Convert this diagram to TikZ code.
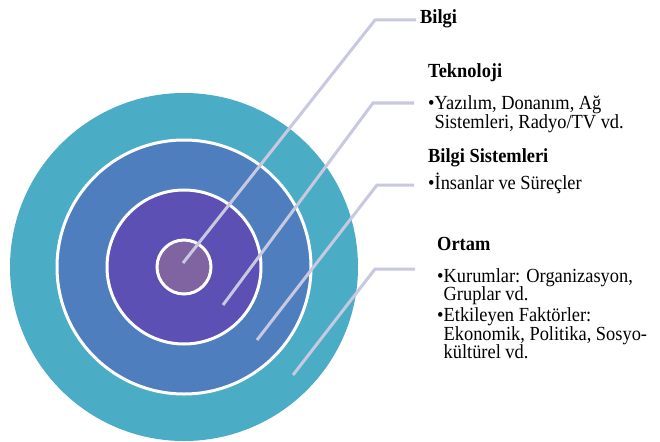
\documentclass[tikz,border=0pt]{standalone}
\usepackage{fontspec}
\setmainfont{Liberation Serif}[FakeStretch=0.92]
\usepackage{tikz}

\definecolor{ortamcol}{HTML}{4BACC6}
\definecolor{sistemcol}{HTML}{4F7EBE}
\definecolor{teknocol}{HTML}{5C50B4}
\definecolor{bilgicol}{HTML}{8064A2}
\definecolor{leadcol}{HTML}{C8C8E1}

\tikzset{
  ring/.style={draw=white, line width=3pt},
  lead/.style={draw=leadcol, line width=3pt},
  head/.style={anchor=base west, inner sep=0pt, font=\fontsize{20}{22}\selectfont\bfseries},
  item/.style={anchor=base west, inner sep=0pt, font=\fontsize{20}{22}\selectfont}
}

\begin{document}
\begin{tikzpicture}[x=1pt, y=-1pt]

\useasboundingbox (0,0) rectangle (660,441);

% the four layers, outside in
\fill[ortamcol] (184,267) circle (174);
\filldraw[ring, fill=sistemcol] (184,267) circle (127);
\filldraw[ring, fill=teknocol] (184,267) circle (77);
\filldraw[ring, fill=bilgicol] (184,267) circle (27);

% leader line ends
\coordinate (BilgiIn) at (183,263);
\coordinate (BilgiKnee) at (375,20);
\coordinate (BilgiOut) at (416,20);
\coordinate (TeknoIn) at (223,305);
\coordinate (TeknoKnee) at (373,103);
\coordinate (TeknoOut) at (414,103);
\coordinate (SistemIn) at (257,340);
\coordinate (SistemKnee) at (377,185);
\coordinate (SistemOut) at (414,185);
\coordinate (OrtamIn) at (293,375);
\coordinate (OrtamKnee) at (375,269);
\coordinate (OrtamOut) at (415,269);

\draw[lead] (BilgiIn) -- (BilgiKnee) -- (BilgiOut);
\draw[lead] (TeknoIn) -- (TeknoKnee) -- (TeknoOut);
\draw[lead] (SistemIn) -- (SistemKnee) -- (SistemOut);
\draw[lead] (OrtamIn) -- (OrtamKnee) -- (OrtamOut);

% labels
\node[head] (BilgiHead) at (420,24) {Bilgi};

\node[head] (TeknoHead) at (428,78) {Teknoloji};
\node[item] (TeknoA) at (428,110) {•Yazılım, Donanım, Ağ};
\node[item] (TeknoB) at (428,128) {\phantom{•}Sistemleri, Radyo/TV vd.};

\node[head] (SistemHead) at (428,162) {Bilgi Sistemleri};
\node[item] (SistemA) at (428,189) {•İnsanlar ve Süreçler};

\node[head] (OrtamHead) at (437,250) {Ortam};
\node[item] (OrtamA) at (437,282) {•Kurumlar: Organizasyon,};
\node[item] (OrtamB) at (437,300) {\phantom{•}Gruplar vd.};
\node[item] (OrtamC) at (437,321) {•Etkileyen Faktörler:};
\node[item] (OrtamD) at (437,340) {\phantom{•}Ekonomik, Politika, Sosyo-};
\node[item] (OrtamE) at (437,358) {\phantom{•}kültürel vd.};

\end{tikzpicture}
\end{document}
